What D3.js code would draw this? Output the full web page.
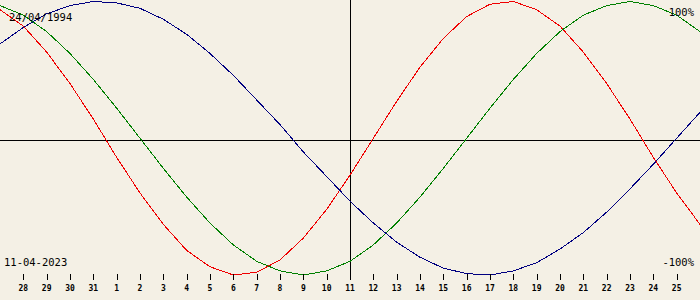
<!DOCTYPE html>
<html>
<head>
<meta charset="utf-8">
<script src="https://cdn.jsdelivr.net/npm/d3@7"></script>
<style>
  body { margin: 0; background: #f4f0e5; }
  svg { display: block; }
  text { font-family: "DejaVu Sans Mono", monospace; fill: #000; }
</style>
</head>
<body>
<div id="chart"></div>
<script>
// one point per day, 27/03 .. 26/04 (first and last sit on the edges)
let dayLabels = [27, 28, 29, 30, 31, 1, 2, 3, 4, 5, 6, 7, 8, 9, 10, 11, 12, 13, 14, 15, 16, 17, 18, 19, 20, 21, 22, 23, 24, 25, 26];

let physical = [0.94, 0.82, 0.63, 0.40, 0.14, -0.14, -0.40, -0.63, -0.82, -0.94, -1.00, -0.98, -0.89, -0.73, -0.52, -0.27,
    0.00, 0.27, 0.52, 0.73, 0.89, 0.98, 1.00, 0.94, 0.82, 0.63, 0.40, 0.14, -0.14, -0.40, -0.63];
let emotional = [0.97, 0.90, 0.78, 0.62, 0.43, 0.22, 0.00, -0.22, -0.43, -0.62, -0.78, -0.90, -0.97, -1.00, -0.97, -0.90,
    -0.78, -0.62, -0.43, -0.22, 0.00, 0.22, 0.43, 0.62, 0.78, 0.90, 0.97, 1.00, 0.97, 0.90, 0.78];
let intellectual = [0.69, 0.81, 0.91, 0.97, 1.00, 0.99, 0.95, 0.87, 0.76, 0.62, 0.46, 0.28, 0.10, -0.10, -0.28, -0.46,
    -0.62, -0.76, -0.87, -0.95, -0.99, -1.00, -0.97, -0.91, -0.81, -0.69, -0.54, -0.37, -0.19, 0.00, 0.19];

let birthLabel = '24/04/1994';
let todayLabel = '11-04-2023';
let todayIndex = 15;
let topLabel = '100%';
let bottomLabel = '-100%';

let width = 700, height = 300;
let plotH = 280;

let x = d3.scaleLinear()
    .domain([0, dayLabels.length - 1])
    .range([0, width]);

let y = d3.scaleLinear()
    .domain([-1, 1])
    .range([275, 1.5]);

let svg = d3.select('#chart')
    .append('svg')
    .attr('width', width)
    .attr('height', height);

svg.append('rect')
    .attr('width', width)
    .attr('height', height)
    .attr('fill', '#f4f0e5');

// zero line and today line
svg.append('line')
    .attr('x1', 0).attr('x2', width)
    .attr('y1', plotH / 2 + 0.5).attr('y2', plotH / 2 + 0.5)
    .attr('stroke', 'black')
    .attr('shape-rendering', 'crispEdges');

svg.append('line')
    .attr('x1', Math.round(x(todayIndex)) + 0.5).attr('x2', Math.round(x(todayIndex)) + 0.5)
    .attr('y1', 0).attr('y2', 279)
    .attr('stroke', 'black')
    .attr('shape-rendering', 'crispEdges');

let line = d3.line()
    .x((d, i) => x(i))
    .y(d => y(d));

let series = [
    { values: physical, color: '#f00000' },
    { values: emotional, color: '#008000' },
    { values: intellectual, color: '#000080' }
];

// old chart draws hard 1px polylines, no smoothing
svg.append('g')
    .attr('id', 'curves')
    .selectAll('path')
    .data(series)
    .join('path')
    .attr('d', d => line(d.values))
    .attr('fill', 'none')
    .attr('stroke', d => d.color)
    .attr('stroke-width', 1)
    .attr('shape-rendering', 'crispEdges');

// day ticks, skipping the two edge points
let tickIdx = d3.range(1, dayLabels.length - 1);

let ticks = svg.append('g').attr('id', 'ticks');
ticks.selectAll('line')
    .data(tickIdx)
    .join('line')
    .attr('x1', i => Math.round(x(i)) + 0.5)
    .attr('x2', i => Math.round(x(i)) + 0.5)
    .attr('y1', 274)
    .attr('y2', 280)
    .attr('stroke', 'black')
    .attr('shape-rendering', 'crispEdges');

ticks.selectAll('text')
    .data(tickIdx)
    .join('text')
    .attr('x', i => x(i))
    .attr('y', 291)
    .attr('text-anchor', 'middle')
    .attr('font-size', '8px')
    .attr('font-weight', 'bold')
    .text(i => dayLabels[i]);

svg.append('text')
    .attr('x', 9).attr('y', 21)
    .attr('font-size', '10.5px')
    .text(birthLabel);

svg.append('text')
    .attr('x', 4).attr('y', 266)
    .attr('font-size', '10.5px')
    .text(todayLabel);

svg.append('text')
    .attr('x', 694).attr('y', 16)
    .attr('text-anchor', 'end')
    .attr('font-size', '10.5px')
    .text(topLabel);

svg.append('text')
    .attr('x', 694).attr('y', 266)
    .attr('text-anchor', 'end')
    .attr('font-size', '10.5px')
    .text(bottomLabel);
</script>
</body>
</html>
